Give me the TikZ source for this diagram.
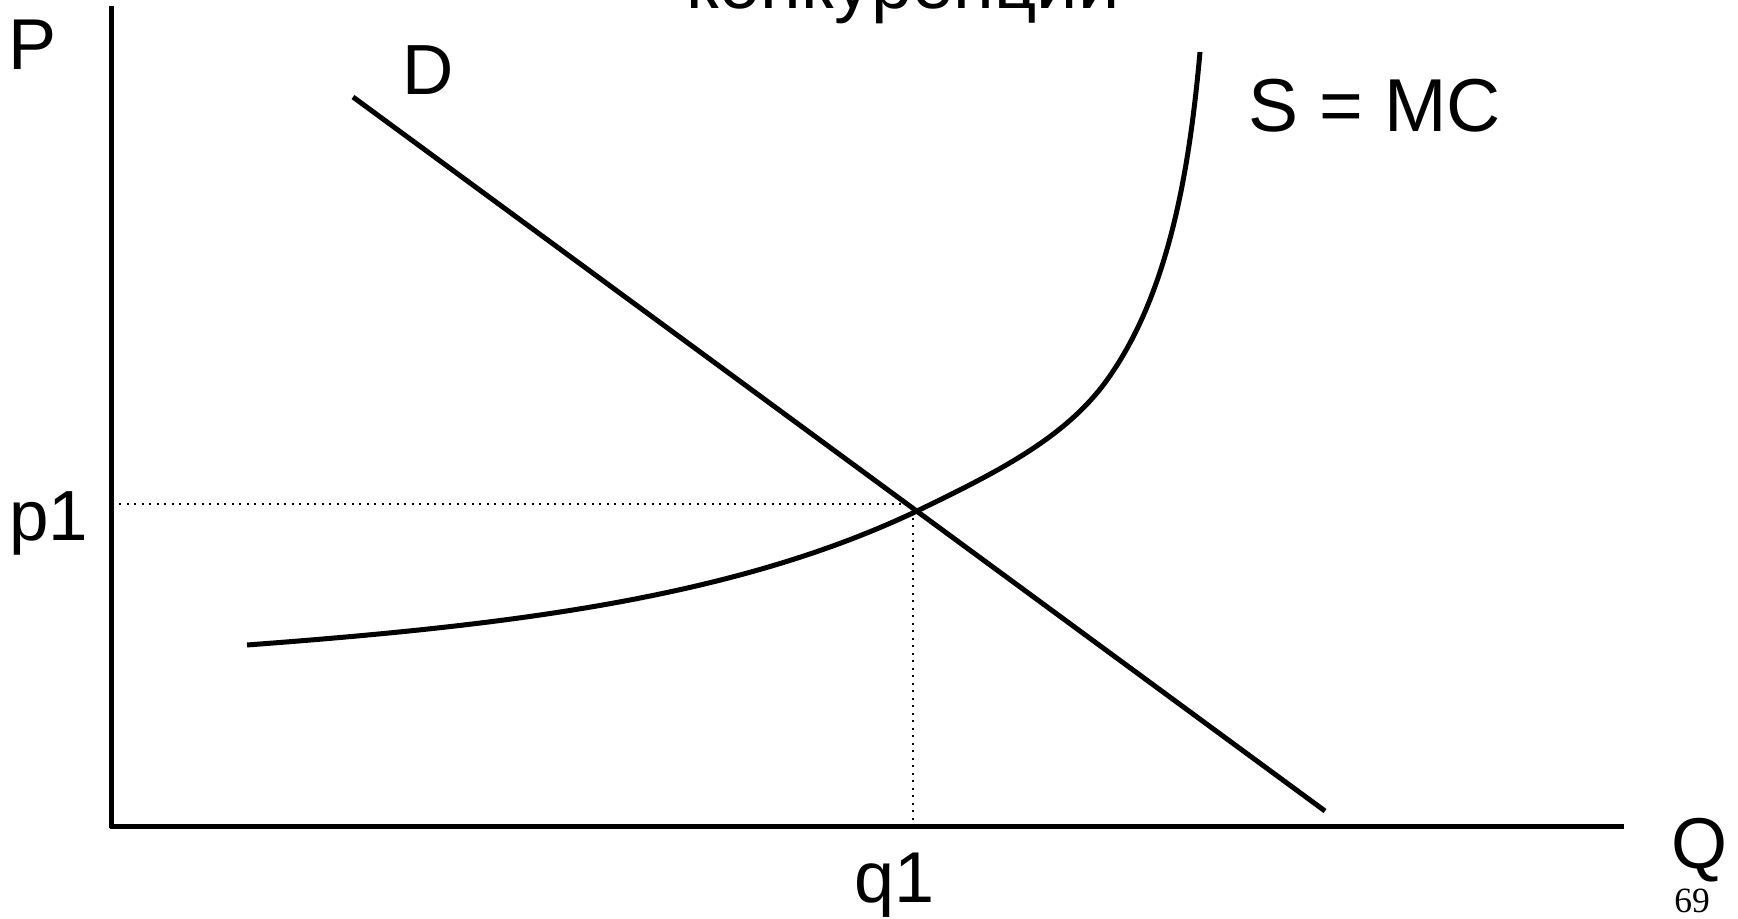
\documentclass[tikz,border=0pt]{standalone}
\usepackage{fontspec}
\setmainfont{Liberation Sans}
\newfontfamily\numfont{Liberation Serif}
\begin{document}
\begin{tikzpicture}[x=0.5pt,y=-0.5pt,
  axis/.style={line width=2.8pt,line cap=butt},
  curve/.style={line width=2.5pt},
  guide/.style={line width=1pt,dash pattern=on 1pt off 2.75pt},
  lbl/.style={inner sep=0pt,anchor=base west}]
\useasboundingbox (0,0) rectangle (1738,919);
% axes
\coordinate (ytop) at (111.5,6);
\coordinate (ybot) at (111.5,828);
\coordinate (xl) at (110,826.5);
\coordinate (xr) at (1624,826.5);
\draw[axis] (ytop) -- (ybot);
\draw[axis] (xl) -- (xr);
% demand
\coordinate (d1) at (353,97);
\coordinate (d2) at (1325,811);
\draw[curve] (d1) -- (d2);
% supply
\coordinate (s0) at (247,645);
\coordinate (e) at (917,511);
\coordinate (s2) at (1107,380);
\coordinate (s3) at (1200,52);
\draw[curve] (s0) .. controls (500,626) and (730,600) .. (e)
  .. controls (1000,471) and (1066,437) .. (s2)
  .. controls (1171,291) and (1190,162) .. (s3);
% guides
\coordinate (gp) at (119,503.5);
\coordinate (ge) at (911,503.5);
\coordinate (gq1) at (913,510);
\coordinate (gq) at (913,824);
\draw[guide] (gp) -- (ge);
\draw[guide] (gq1) -- (gq);
% labels
\node[lbl,font=\fontsize{37pt}{37pt}\selectfont] (title) at (686,9) {конкуренции};
\node[lbl,font=\fontsize{36pt}{36pt}\selectfont] (P) at (8,70) {P};
\node[lbl,font=\fontsize{35.5pt}{35.5pt}\selectfont] (D) at (402,95) {D};
\node[lbl,font=\fontsize{37.5pt}{37.5pt}\selectfont] (S) at (1248.5,132) {S = MC};
\node[lbl,font=\fontsize{35.5pt}{35.5pt}\selectfont] (p1) at (9,540) {p1};
\node[lbl,font=\fontsize{36pt}{36pt}\selectfont] (q1) at (854,902) {q1};
\node[lbl,font=\fontsize{36pt}{36pt}\selectfont] (Q) at (1671.5,868) {Q};
\node[inner sep=0pt,anchor=base,font=\numfont\fontsize{17.75pt}{17.75pt}\selectfont] (num) at (1692,912) {69};
\end{tikzpicture}
\end{document}
